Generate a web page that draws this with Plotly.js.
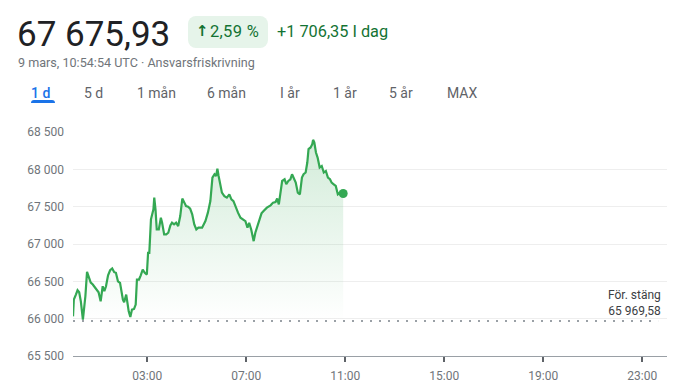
<!DOCTYPE html>
<html><head><meta charset="utf-8">
<script src="https://cdn.plot.ly/plotly-3.0.1.min.js"></script>
<style>
body{margin:0;width:684px;height:389px;overflow:hidden;background:#fff;font-family:Roboto,Arial,sans-serif;position:relative}
#chart{position:absolute;left:0;top:0;width:684px;height:389px}
.abs{position:absolute;white-space:nowrap;line-height:1}
.tab{position:absolute;top:85.5px;font-size:14px;color:#5f6368;line-height:1;white-space:nowrap}
</style></head><body>
<div id="chart"></div>
<div class="abs" style="left:17px;top:17px;font-size:35px;color:#202124">67 675,93</div>
<div class="abs" style="left:187.5px;top:16px;width:80px;height:31.5px;background:#e6f4ea;border-radius:8px"></div>
<div class="abs" style="left:196px;top:24px;font-size:15px;color:#137333;font-family:'DejaVu Sans';font-weight:bold">↑</div>
<div class="abs" style="left:210px;top:23.6px;font-size:16.5px;color:#137333;letter-spacing:0.3px">2,59 %</div>
<div class="abs" style="left:277px;top:23.6px;font-size:16.3px;color:#137333">+1 706,35 I dag</div>
<div class="abs" style="left:18px;top:56.7px;font-size:12.6px;color:#70757a">9 mars, 10:54:54 UTC · Ansvarsfriskrivning</div>
<div class="tab" style="left:31px;color:#1a73e8;font-weight:500">1 d</div>
<div class="abs" style="left:31px;top:100px;width:24px;height:3px;background:#1a73e8;border-radius:3px 3px 0 0"></div>
<div class="tab" style="left:84px">5 d</div>
<div class="tab" style="left:137px">1 mån</div>
<div class="tab" style="left:207px">6 mån</div>
<div class="tab" style="left:280px">I år</div>
<div class="tab" style="left:333px">1 år</div>
<div class="tab" style="left:389px">5 år</div>
<div class="tab" style="left:447px">MAX</div>
<script>
const day = '2024-03-09';
const times = ['00:00','00:02','00:07','00:11','00:15','00:19','00:24','00:27','00:30','00:34',
'00:38','00:43','00:48','00:53','00:58','01:02','01:07','01:12','01:16','01:20',
'01:25','01:30','01:35','01:40','01:44','01:49','01:54','01:57','02:01','02:04',
'02:09','02:12','02:15','02:19','02:23','02:28','02:32','02:35','02:40','02:44',
'02:49','02:54','02:59','03:02','03:05','03:09','03:12','03:15','03:17','03:20',
'03:23','03:28','03:33','03:36','03:41','03:46','03:51','03:56','04:00','04:05',
'04:10','04:15','04:20','04:25','04:30','04:34','04:39','04:44','04:49','04:54',
'04:59','05:04','05:13','05:21','05:27','05:33','05:38','05:43','05:47','05:50',
'05:53','05:57','06:01','06:07','06:13','06:19','06:24','06:29','06:33','06:40',
'06:46','06:51','06:58','07:03','07:07','07:12','07:18','07:22','07:27','07:32',
'07:37','07:42','07:50','07:59','08:05','08:11','08:15','08:19','08:23','08:27',
'08:33','08:37','08:42','08:47','08:51','08:55','09:00','09:05','09:10','09:15',
'09:19','09:24','09:28','09:31','09:36','09:40','09:42','09:45','09:49','09:53',
'09:58','10:03','10:08','10:13','10:18','10:23','10:27','10:32','10:37','10:42',
'10:47','10:52','10:55'];
const prices = [66031,66255,66322,66380,66353,66232,65987,66144,66300,66627,
66547,66483,66457,66416,66389,66353,66232,66434,66367,66434,
66582,66649,66672,66622,66614,66501,66479,66353,66255,66219,
66322,66211,66098,66023,66121,66130,66188,66524,66524,66577,
66658,66614,66591,66882,66882,67330,67397,67464,67621,67464,
67195,67195,67352,67285,67128,67128,67151,67249,67285,67262,
67285,67240,67374,67608,67554,67508,67500,67473,67397,67262,
67195,67218,67218,67307,67420,67575,67890,67934,67911,68010,
67911,67777,67688,67642,67621,67665,67598,67575,67508,67420,
67352,67330,67307,67218,67285,67195,67038,67151,67240,67330,
67410,67441,67487,67518,67554,67562,67608,67531,67732,67844,
67867,67800,67844,67867,67934,67890,67822,67688,67665,67890,
67934,67957,68091,68270,68293,68337,68395,68360,68225,68158,
68024,68045,67957,67978,67890,67867,67822,67800,67777,67665,
67688,67688,67675.93];
const prevClose = 65969.58;
const prevCloseLabel = 'För. stäng<br>65 969,58';
const yTickVals = [65500,66000,66500,67000,67500,68000,68500];
const yTickText = ['65 500','66 000','66 500','67 000','67 500','68 000','68 500'];
const xTickTimes = ['03:00','07:00','11:00','15:00','19:00','23:00'];

const xs = times.map(t => day + ' ' + t);
const green = '#34a853';

const traces = [
  {x:[xs[0], xs[xs.length-1]], y:[prevClose, prevClose], mode:'lines', line:{width:0}, hoverinfo:'skip', showlegend:false},
  {x:xs, y:prices, mode:'lines', line:{color:green, width:2.2}, fill:'tonexty',
   fillgradient:{type:'vertical', start:prevClose, stop:68395,
     colorscale:[[0,'rgba(52,168,83,0)'],[1,'rgba(52,168,83,0.22)']]},
   hoverinfo:'skip', showlegend:false},
  {x:[xs[xs.length-1]], y:[prices[prices.length-1]], mode:'markers', marker:{color:green, size:9}, hoverinfo:'skip', showlegend:false}
];

const layout = {
  width:684, height:389,
  margin:{l:73, r:17, t:132, b:33},
  paper_bgcolor:'rgba(0,0,0,0)', plot_bgcolor:'rgba(0,0,0,0)',
  font:{family:'Roboto, Arial, sans-serif', size:12, color:'#70757a'},
  showlegend:false,
  xaxis:{type:'date', range:[day+' 00:00', '2024-03-10 00:00'],
    tickvals:xTickTimes.map(t => day+' '+t), ticktext:xTickTimes,
    showgrid:false, zeroline:false, showline:true, linecolor:'#9aa0a6', linewidth:1,
    ticks:'outside', ticklen:5, tickwidth:2, tickcolor:'#5f6368', ticklabelstandoff:4,
    tickfont:{size:12, color:'#70757a'}, fixedrange:true},
  yaxis:{range:[65500,68500], tickvals:yTickVals, ticktext:yTickText,
    showgrid:true, gridcolor:'#eeeeee', gridwidth:1, zeroline:false, showline:false,
    ticks:'', ticklabelstandoff:8, tickfont:{size:12, color:'#70757a'}, fixedrange:true},
  shapes:[{type:'line', xref:'paper', x0:0, x1:0.985, yref:'y', y0:prevClose, y1:prevClose,
    line:{color:'#9aa0a6', width:2, dash:'2px,7px'}}],
  annotations:[{xref:'paper', x:1, xanchor:'right', xshift:-4, yref:'y', y:prevClose, yanchor:'bottom', yshift:1,
    text:prevCloseLabel, showarrow:false, align:'right', font:{size:12, color:'#3c4043'}}]
};

Plotly.newPlot('chart', traces, layout, {staticPlot:true, displayModeBar:false});
</script>
</body></html>
